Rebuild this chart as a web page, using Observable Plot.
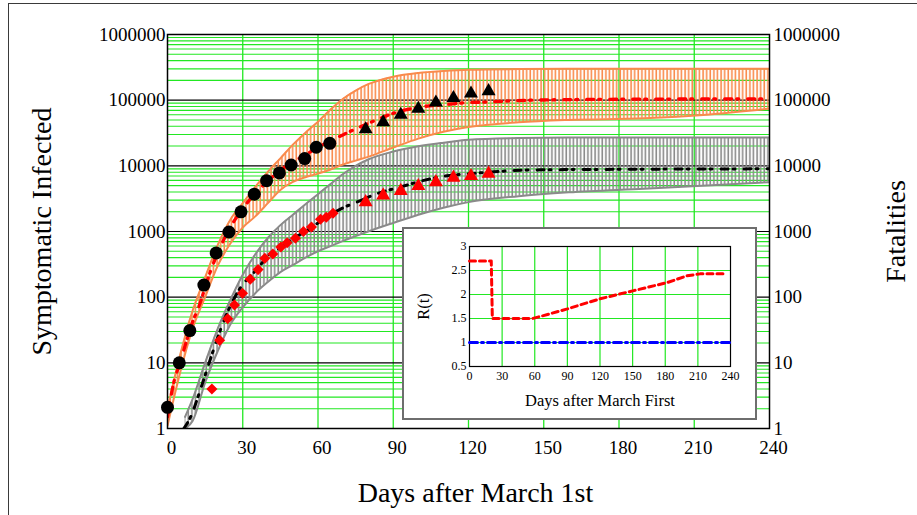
<!DOCTYPE html>
<html><head><meta charset="utf-8">
<script src="https://cdn.jsdelivr.net/npm/d3@7"></script>
<script src="https://cdn.jsdelivr.net/npm/@observablehq/plot@0.6"></script>
<style>
body{margin:0;background:#fff;overflow:hidden;width:917px;height:515px;position:relative;font-family:"Liberation Serif","Times New Roman",serif;}
#outer{position:absolute;left:8px;top:3px;width:1200px;height:800px;border:1.5px solid #3a3a3a;pointer-events:none;}
#main{position:absolute;left:0;top:0;line-height:0;}
#inset{position:absolute;left:402px;top:227px;border:2px solid #6e6e6e;background:#fff;line-height:0;}
</style></head><body>
<div id="main"></div><div id="inset"></div><div id="outer"></div>
<script>
// ---------- tick labels ----------
const decades = [1, 10, 100, 1000, 10000, 100000, 1000000];
const minorMult = [2, 3, 4, 5, 6, 7, 8, 9];
const xTicks = [0, 30, 60, 90, 120, 150, 180, 210, 240];
const rTicks = [0.5, 1, 1.5, 2, 2.5, 3];

// ---------- observed: symptomatic infected (black circles) ----------
const infObsDays = [0, 4.7, 8.9, 14.5, 19.4, 24.5, 29.3, 34.6, 39.5, 44.6, 49.3, 54.7, 59.3, 64.7];
const infObsVals = [2.1, 10, 31, 153, 472, 983, 1995, 3700, 5950, 7800, 10300, 12900, 19200, 22000];
// black triangles
const infObs2Days = [79, 86, 93, 100, 107, 114, 121, 128];
const infObs2Vals = [36000, 46000, 60000, 74000, 92000, 108000, 126000, 137000];

// ---------- observed: fatalities (red diamonds, red triangles) ----------
const fatObsDays = [17.7, 20.8, 24, 26.7, 29.9, 33, 36.1, 38.8, 42, 45.2, 47.7, 51, 54.2, 57.4, 61, 63.3, 66];
const fatObsVals = [4, 22, 47, 76, 115, 187, 263, 390, 455, 580, 675, 790, 1000, 1170, 1540, 1650, 1900];
const fatObs2Days = [79, 86, 93, 100, 107, 114, 121, 128];
const fatObs2Vals = [2800, 3550, 4160, 4920, 5650, 6600, 7000, 7600];

// ---------- model: infected (red dash-dot) ----------
const infModelDays = [0, 2.5, 5, 7.5, 10, 12.5, 17, 21, 26, 30, 37, 46, 56, 62, 71, 81, 90, 100, 110, 118, 128, 138, 160, 200, 240];
const infModelVals = [1.5, 5, 10, 21, 42, 72, 240, 575, 1330, 2240, 4550, 9100, 15500, 21000, 31000, 46000, 63000, 78000, 85000, 91000, 94000, 98000, 102000, 104000, 105000];

// ---------- model: fatalities (black dash-dot) ----------
const fatModelDays = [6.5, 9.2, 13.2, 16.5, 19.8, 23.1, 28.4, 35.8, 41, 45.7, 50, 55, 60, 65, 70, 75, 83.6, 92.9, 102.2, 111.5, 120.8, 130, 140.7, 150, 180, 210, 240];
const fatModelVals = [1, 1.5, 4, 9.7, 23, 50, 127, 270, 460, 590, 780, 1000, 1350, 1800, 2300, 2750, 3770, 4770, 6000, 7050, 7600, 8100, 8560, 8700, 8850, 8950, 9000];

// ---------- uncertainty bands ----------
const infBandDays  = [0, 5, 10, 15, 20, 25, 30, 35, 40, 45, 50, 55, 60, 65, 70, 75, 80, 90, 100, 110, 120, 140, 160, 190, 215, 240];
const infBandUpper = [2, 13, 62, 200, 620, 1500, 2700, 4800, 8100, 13000, 21000, 32000, 47000, 72000, 105000, 140000, 175000, 228000, 260000, 278000, 290000, 297000, 300000, 300000, 300000, 300000];
const infBandLower = [1.1, 7, 33, 100, 300, 650, 1150, 1700, 2700, 4300, 5700, 6700, 7600, 8800, 10500, 12000, 13700, 19000, 26000, 33000, 39000, 46000, 50000, 53000, 60000, 74000];

const fatBandDays  = [7, 10, 15, 20, 25, 30, 35, 40, 45, 50, 55, 60, 65, 70, 75, 80, 90, 100, 110, 120, 140, 160, 190, 215, 240];
const fatBandUpper = [1.5, 2.8, 10, 33, 90, 220, 450, 800, 1250, 1800, 2600, 3700, 5300, 7500, 10000, 12500, 16500, 19800, 22500, 25000, 26500, 27000, 27000, 27000, 27000];
const fatBandLower = [1, 1.3, 5, 15, 38, 70, 115, 170, 240, 310, 400, 500, 600, 720, 850, 1000, 1350, 1800, 2300, 2800, 3450, 3950, 4480, 5000, 5650];

// ---------- inset R(t) ----------
const rRedDays = [0, 20, 21, 58, 68, 90, 120, 151, 182, 200, 212, 234];
const rRedVals = [2.7, 2.7, 1.5, 1.5, 1.56, 1.70, 1.91, 2.08, 2.25, 2.39, 2.43, 2.43];
const rBlueDays = [0, 240];
const rBlueVals = [1, 1];

// ---------- styling ----------
const GREEN = "#22e822";
const ORANGE = "#f98a4c";
const GRAY = "#8a8a8a";
const BAND_INF = "#fa8b4d";   // placeholder fills, replaced by hatch patterns
const BAND_FAT = "#8b8b8b";
const FONT = "Liberation Serif, Times New Roman, serif";

const zip = (xs, ys) => xs.map((x, i) => ({x, y: ys[i]}));
const band = (xs, lo, hi) => xs.map((x, i) => ({x, lo: lo[i], hi: hi[i]}));
const minorY = decades.slice(0, -1).flatMap(d => minorMult.map(m => d * m));

const main = Plot.plot({
  width: 917, height: 515,
  marginLeft: 167, marginRight: 148, marginTop: 34, marginBottom: 87,
  style: {fontFamily: FONT, fontSize: "19px", color: "black", background: "transparent"},
  x: {domain: [0, 240]},
  y: {type: "log", domain: [1, 1e6]},
  marks: [
    Plot.ruleY(minorY, {stroke: GREEN, strokeWidth: 1.1}),
    Plot.ruleX(xTicks.slice(1, -1), {stroke: GREEN, strokeWidth: 1.3}),
    Plot.ruleY(decades.slice(1, -1), {stroke: "black", strokeWidth: 1.2}),
    Plot.areaY(band(infBandDays, infBandLower, infBandUpper), {x: "x", y1: "lo", y2: "hi", fill: BAND_INF, curve: "monotone-x", clip: true}),
    Plot.line(zip(infBandDays, infBandUpper), {x: "x", y: "y", stroke: ORANGE, strokeWidth: 2, curve: "monotone-x", clip: true}),
    Plot.line(zip(infBandDays, infBandLower), {x: "x", y: "y", stroke: ORANGE, strokeWidth: 2, curve: "monotone-x", clip: true}),
    Plot.areaY(band(fatBandDays, fatBandLower, fatBandUpper), {x: "x", y1: "lo", y2: "hi", fill: BAND_FAT, curve: "monotone-x", clip: true}),
    Plot.line(zip(fatBandDays, fatBandUpper), {x: "x", y: "y", stroke: GRAY, strokeWidth: 2, curve: "monotone-x", clip: true}),
    Plot.line(zip(fatBandDays, fatBandLower), {x: "x", y: "y", stroke: GRAY, strokeWidth: 2, curve: "monotone-x", clip: true}),
    Plot.line(zip(infModelDays, infModelVals), {x: "x", y: "y", stroke: "#ff0000", strokeWidth: 3.3, strokeDasharray: "7,5,2,9", curve: "monotone-x", clip: true}),
    Plot.line(zip(fatModelDays, fatModelVals), {x: "x", y: "y", stroke: "black", strokeWidth: 3, strokeDasharray: "7,5,2,9", curve: "monotone-x", clip: true}),
    Plot.frame({stroke: "black", strokeWidth: 1.5}),
    Plot.dot(zip(infObsDays, infObsVals), {x: "x", y: "y", r: 6.5, fill: "black"}),
    Plot.dot(zip(infObs2Days, infObs2Vals), {x: "x", y: "y", r: 5.2, symbol: "triangle", fill: "black"}),
    Plot.dot(zip(fatObsDays, fatObsVals), {x: "x", y: "y", r: 5, symbol: "diamond2", fill: "#ff0000"}),
    Plot.dot(zip(fatObs2Days, fatObs2Vals), {x: "x", y: "y", r: 5.2, symbol: "triangle", fill: "#ff0000"}),
    Plot.axisY({anchor: "left", ticks: decades, tickFormat: d => String(d), tickSize: 0, tickPadding: 2, label: null, fontSize: 19}),
    Plot.axisY({anchor: "right", ticks: decades, tickFormat: d => String(d), tickSize: 0, tickPadding: 4, label: null, fontSize: 19}),
    Plot.axisX({ticks: xTicks, tickFormat: d => String(d), tickSize: 0, tickPadding: 12, dx: 4, label: null, fontSize: 19}),
    Plot.text(["Days after March 1st"], {text: d => d, frameAnchor: "bottom", dx: 7, dy: 65, fontSize: 28, textAnchor: "middle", lineAnchor: "middle"}),
    Plot.text(["Symptomatic Infected"], {text: d => d, frameAnchor: "left", dx: -125, rotate: -90, fontSize: 28, textAnchor: "middle", lineAnchor: "middle"}),
    Plot.text(["Fatalities"], {text: d => d, frameAnchor: "right", dx: 127, rotate: -90, fontSize: 28, textAnchor: "middle", lineAnchor: "middle"})
  ]
});
document.getElementById("main").appendChild(main);

// hatch patterns for the error-bar bands
const svg = d3.select(main);
const defs = svg.insert("defs", ":first-child");
function hatch(id, color) {
  const p = defs.append("pattern").attr("id", id).attr("patternUnits", "userSpaceOnUse")
    .attr("x", 0).attr("y", 0).attr("width", 3.6).attr("height", 10);
  p.append("rect").attr("x", 0.3).attr("y", 0).attr("width", 1.6).attr("height", 10).attr("fill", color);
}
hatch("hatchInf", ORANGE);
hatch("hatchFat", GRAY);
const mi = svg.selectAll(`[fill="${BAND_INF}"]`);
const mf = svg.selectAll(`[fill="${BAND_FAT}"]`);
mi.attr("fill", "url(#hatchInf)"); mi.selectAll("path").attr("fill", "url(#hatchInf)");
mf.attr("fill", "url(#hatchFat)"); mf.selectAll("path").attr("fill", "url(#hatchFat)");

const inset = Plot.plot({
  width: 351, height: 189,
  marginLeft: 65, marginRight: 25, marginTop: 17, marginBottom: 52,
  style: {fontFamily: FONT, fontSize: "12px", color: "black", background: "white"},
  x: {domain: [0, 240]},
  y: {domain: [0.5, 3]},
  marks: [
    Plot.ruleX(xTicks.slice(1, -1), {stroke: GREEN, strokeWidth: 1.2}),
    Plot.ruleY(rTicks.slice(1, -1), {stroke: GREEN, strokeWidth: 1.2}),
    Plot.frame({stroke: "black", strokeWidth: 1.2}),
    Plot.line(zip(rBlueDays, rBlueVals), {x: "x", y: "y", stroke: "#0000ff", strokeWidth: 3, strokeDasharray: "8,4,2,4"}),
    Plot.line(zip(rRedDays, rRedVals), {x: "x", y: "y", stroke: "#ff0000", strokeWidth: 3, strokeDasharray: "6,4"}),
    Plot.axisX({ticks: xTicks, tickFormat: d => String(d), tickSize: 0, tickPadding: 5, label: null, fontSize: 12}),
    Plot.axisY({ticks: rTicks, tickFormat: d => String(d), tickSize: 0, tickPadding: 3, label: null, fontSize: 12}),
    Plot.text(["Days after March First"], {text: d => d, frameAnchor: "bottom", dy: 39, fontSize: 16.5, textAnchor: "middle"}),
    Plot.text(["R(t)"], {text: d => d, frameAnchor: "left", dx: -46, rotate: -90, fontSize: 16.5, textAnchor: "middle"})
  ]
});
document.getElementById("inset").appendChild(inset);
</script></body></html>
